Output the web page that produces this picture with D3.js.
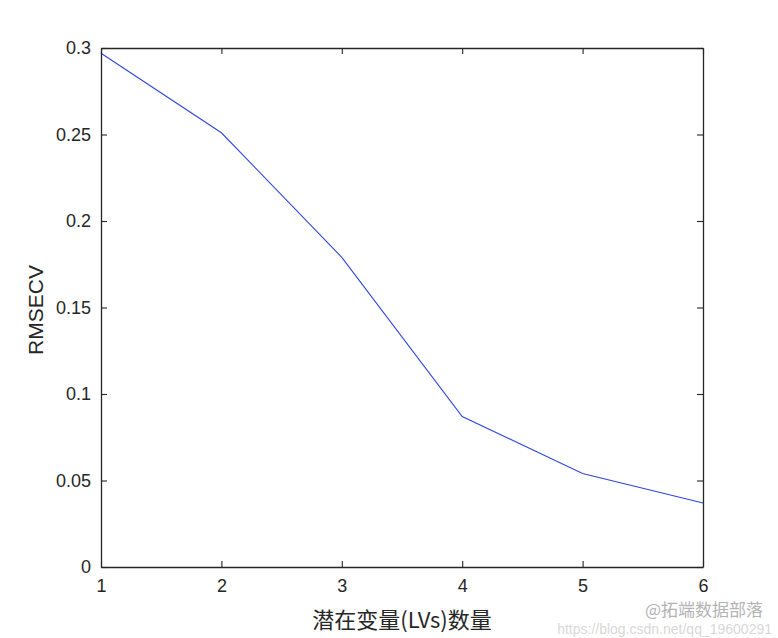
<!DOCTYPE html>
<html>
<head>
<meta charset="utf-8">
<script src="https://cdn.jsdelivr.net/npm/d3@7"></script>
<style>
html,body{margin:0;padding:0;background:#fff;}
svg{display:block;}
text{font-family:"Liberation Sans",Arial,Helvetica,sans-serif;fill:#262626;}
</style>
</head>
<body>
<svg id="chart" width="778" height="638"></svg>
<script>
const lvs = [1, 2, 3, 4, 5, 6];
const rmsecv = [0.297, 0.251, 0.179, 0.087, 0.054, 0.037];
const xTicks = [1, 2, 3, 4, 5, 6];
const yTicks = [0, 0.05, 0.1, 0.15, 0.2, 0.25, 0.3];
const yTickLabels = ["0", "0.05", "0.1", "0.15", "0.2", "0.25", "0.3"];
const xLabel = "潜在变量(LVs)数量";
const yLabel = "RMSECV";

const svg = d3.select("#chart");
const L = 101, R = 703, T = 48, B = 567;
const x = d3.scaleLinear().domain([1, 6]).range([L, R]);
const y = d3.scaleLinear().domain([0, 0.3]).range([B, T]);
const tl = 6;

// line
const line = d3.line().x((d, i) => x(lvs[i])).y(d => y(d));
svg.append("path").datum(rmsecv)
  .attr("d", line).attr("fill", "none")
  .attr("stroke", "#2f47dc").attr("stroke-width", 1.1);

// axes (MATLAB style: inward ticks, box)
const ax = svg.append("g");
const yAxL = d3.axisLeft(y).tickValues(yTicks).tickSizeInner(-tl).tickSizeOuter(0)
  .tickFormat((d, i) => yTickLabels[i]).tickPadding(10);
ax.append("g").attr("transform", `translate(${L},0)`).call(yAxL);
const yAxR = d3.axisRight(y).tickValues(yTicks).tickSizeInner(-tl).tickSizeOuter(0).tickFormat("");
ax.append("g").attr("transform", `translate(${R},0)`).call(yAxR);
const xAxB = d3.axisBottom(x).tickValues(xTicks).tickSizeInner(-tl).tickSizeOuter(0)
  .tickFormat(d3.format("d")).tickPadding(12);
ax.append("g").attr("transform", `translate(0,${B})`).call(xAxB);
const xAxT = d3.axisTop(x).tickValues(xTicks).tickSizeInner(-tl).tickSizeOuter(0).tickFormat("");
ax.append("g").attr("transform", `translate(0,${T})`).call(xAxT);

ax.selectAll(".domain").attr("stroke", "#262626").attr("stroke-width", 1.3);
ax.selectAll(".tick line").attr("stroke", "#262626").attr("stroke-width", 1.1);
ax.selectAll(".tick text").attr("font-size", "18px").attr("fill", "#262626")
  .attr("font-family", "'Liberation Sans',Arial,sans-serif");

// axis labels
svg.append("text").attr("x", 402).attr("y", 628).attr("text-anchor", "middle")
  .attr("font-size", "22px")
  .style("font-family", "'Noto Sans CJK SC','Liberation Sans',sans-serif")
  .text(xLabel);
svg.append("text").attr("transform", "translate(43,310) rotate(-90)")
  .attr("text-anchor", "middle").attr("font-size", "21px").text(yLabel);

// watermark
svg.append("text").attr("x", 763).attr("y", 616).attr("text-anchor", "end")
  .attr("font-size", "17px").style("fill", "#9a9a9a").style("opacity", 0.75)
  .style("font-family", "'Noto Sans CJK SC',sans-serif").text("@拓端数据部落");
svg.append("text").attr("x", 772).attr("y", 634).attr("text-anchor", "end")
  .attr("font-size", "14px").style("fill", "#d8d8d8")
  .text("https://blog.csdn.net/qq_19600291");
</script>
</body>
</html>
